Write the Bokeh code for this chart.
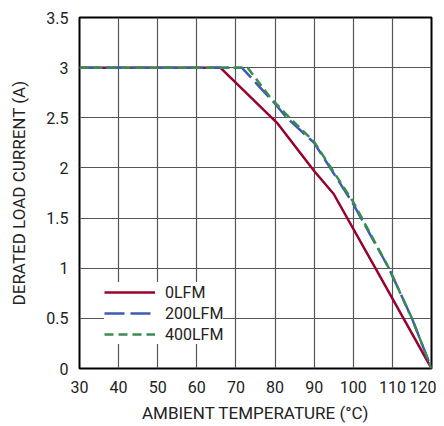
from bokeh.plotting import figure
from bokeh.models import FixedTicker, Range1d
from bokeh.embed import file_html
from bokeh.resources import INLINE

# data
temp_0lfm = [30, 66, 80.5, 90, 95, 105.8, 120]
cur_0lfm = [3, 3, 2.45, 1.97, 1.74, 0.99, 0]
temp_200lfm = [30, 71.5, 80, 83, 90, 100, 109.1, 115, 120]
cur_200lfm = [3, 3, 2.64, 2.50, 2.25, 1.64, 1.0, 0.5, 0]
temp_400lfm = [30, 73, 79, 84, 90, 100, 109.1, 115, 120]
cur_400lfm = [3, 3, 2.69, 2.49, 2.26, 1.66, 1.0, 0.5, 0]
x_ticks = [30, 40, 50, 60, 70, 80, 90, 100, 110, 120]
y_ticks = [0, 0.5, 1, 1.5, 2, 2.5, 3, 3.5]
y_tick_labels = ["0", "0.5", "1", "1.5", "2", "2.5", "3", "3.5"]

FONT = "Roboto"

p = figure(width=436, height=426, output_backend="svg", toolbar_location=None,
           x_range=Range1d(30, 120), y_range=Range1d(0, 3.5),
           min_border_left=79, min_border_right=5, min_border_top=17, min_border_bottom=58)

p.xaxis.ticker = FixedTicker(ticks=x_ticks)
p.yaxis.ticker = FixedTicker(ticks=y_ticks)
p.yaxis.major_label_overrides = {t: l for t, l in zip(y_ticks, y_tick_labels)}
p.xgrid.ticker = FixedTicker(ticks=x_ticks)
p.ygrid.ticker = FixedTicker(ticks=y_ticks)

for ax in (p.xaxis, p.yaxis):
    ax.axis_line_color = None
    ax.major_tick_line_color = None
    ax.minor_tick_line_color = None
    ax.major_tick_out = 0
    ax.major_tick_in = 0
    ax.minor_tick_out = 0
    ax.major_label_text_font = FONT
    ax.major_label_text_font_size = "16px"
    ax.major_label_text_color = "#222222"
    ax.axis_label_text_font = FONT
    ax.axis_label_text_font_size = "17px"
    ax.axis_label_text_font_style = "normal"
    ax.axis_label_text_color = "#222222"
p.xaxis.major_label_standoff = 12
p.yaxis.major_label_standoff = 11
p.xaxis.axis_label = "AMBIENT TEMPERATURE (°C)"
p.yaxis.axis_label = "DERATED LOAD CURRENT (A)"
p.xaxis.axis_label_standoff = 7
p.yaxis.axis_label_standoff = 14

for g in (p.xgrid, p.ygrid):
    g.grid_line_color = "#555555"
    g.grid_line_width = 1.2
    g.grid_line_alpha = 1

p.outline_line_color = "black"
p.outline_line_width = 2

p.line(temp_0lfm, cur_0lfm, color="#98002e", line_width=2.5, legend_label="0LFM")
p.line(temp_200lfm, cur_200lfm, color="#3b5bb5", line_width=2.5, line_dash="20 6", legend_label="200LFM")
p.line(temp_400lfm, cur_400lfm, color="#3a8c4e", line_width=2.5, line_dash="9 5", legend_label="400LFM")

lg = p.legend[0]
lg.location = (25, 24)
lg.margin = 0
lg.padding = 10
lg.spacing = 1
lg.glyph_width = 51
lg.glyph_height = 20
lg.label_height = 20
lg.label_standoff = 10
lg.label_text_font = FONT
lg.label_text_font_size = "16px"
lg.label_text_color = "#222222"
lg.background_fill_color = "white"
lg.background_fill_alpha = 1
lg.border_line_color = None

open("out.html", "w").write(file_html(p, INLINE))
